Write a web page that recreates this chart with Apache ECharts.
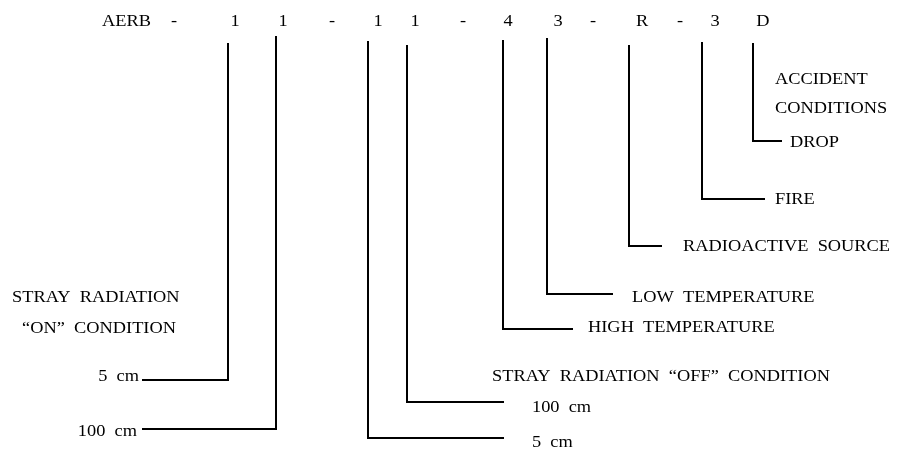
<!DOCTYPE html>
<html>
<head>
<meta charset="utf-8">
<script src="https://cdn.jsdelivr.net/npm/echarts@6/dist/echarts.min.js"></script>
<style>
html,body{margin:0;padding:0;background:#fff;}
#chart{width:898px;height:453px;}
</style>
</head>
<body>
<div id="chart"></div>
<script>
// Code characters along the top row
const codeChars = ['AERB', '-', '1', '1', '-', '1', '1', '-', '4', '3', '-', 'R', '-', '3', 'D'];
const codeX     = [102, 174, 235, 283, 332, 378, 415, 463, 508, 558, 593, 642, 680, 715, 763];
const codeY     = [22, 22, 22, 22, 22, 22, 22, 22, 22, 22, 22, 22, 22, 22, 22];
const codeAlign = ['left', 'center', 'center', 'center', 'center', 'center', 'center', 'center', 'center', 'center', 'center', 'center', 'center', 'center', 'center'];

// Descriptive labels
const labelTexts = ['ACCIDENT', 'CONDITIONS', 'DROP', 'FIRE', 'RADIOACTIVE  SOURCE', 'LOW  TEMPERATURE',
  'HIGH  TEMPERATURE', 'STRAY  RADIATION  \u201COFF\u201D  CONDITION', '100  cm', '5  cm',
  'STRAY  RADIATION', '\u201CON\u201D  CONDITION', '5  cm', '100  cm'];
const labelX = [775, 775, 790, 775, 683, 632, 588, 492, 532, 532, 12, 22, 139, 137];
const labelY = [80, 109, 143, 200, 247, 298, 328, 377, 408, 443, 298, 329, 377, 432];
const labelAlign = ['left', 'left', 'left', 'left', 'left', 'left', 'left', 'left', 'left', 'left', 'left', 'left', 'right', 'right'];

// Connector lines: vertical from top to bottom, then horizontal to end
const connX      = [228, 276, 368, 407, 503, 547, 629, 702, 753];
const connTop    = [43, 36, 41, 45, 40, 38, 45, 42, 43];
const connBottom = [380, 429, 438, 402, 329, 294, 246, 199, 141];
const connEnd    = [142, 142, 504, 504, 573, 613, 662, 765, 782];

const chart = echarts.init(document.getElementById('chart'), null, {renderer: 'canvas'});

const SX = 1.08;
const FONT = '17px "Liberation Serif", "Times New Roman", serif';

function textSeries(name, xs, ys, texts, aligns) {
  return {
    type: 'custom',
    name: name,
    coordinateSystem: 'cartesian2d',
    clip: false,
    silent: true,
    data: xs.map((x, i) => [x, ys[i]]),
    encode: {x: 0, y: 1},
    renderItem: function (params, api) {
      const p = api.coord([api.value(0), api.value(1)]);
      const i = params.dataIndex;
      return {
        type: 'text',
        x: p[0],
        y: p[1],
        scaleX: SX,
        style: {
          text: texts[i],
          font: FONT,
          fill: '#000',
          align: aligns[i],
          verticalAlign: 'middle'
        }
      };
    }
  };
}

const connectorData = connX.map((x, i) => ({
  coords: [[x, connTop[i]], [x, connBottom[i]], [connEnd[i], connBottom[i]]]
}));

chart.setOption({
  animation: false,
  backgroundColor: '#fff',
  grid: {left: 0, right: 0, top: 0, bottom: 0},
  xAxis: {type: 'value', min: 0, max: 898, show: false},
  yAxis: {type: 'value', min: 0, max: 453, inverse: true, show: false},
  series: [
    {
      type: 'lines',
      coordinateSystem: 'cartesian2d',
      polyline: true,
      silent: true,
      lineStyle: {color: '#000', width: 2, opacity: 1, join: 'miter'},
      data: connectorData
    },
    textSeries('code', codeX, codeY, codeChars, codeAlign),
    textSeries('labels', labelX, labelY, labelTexts, labelAlign)
  ]
});
</script>
</body>
</html>
